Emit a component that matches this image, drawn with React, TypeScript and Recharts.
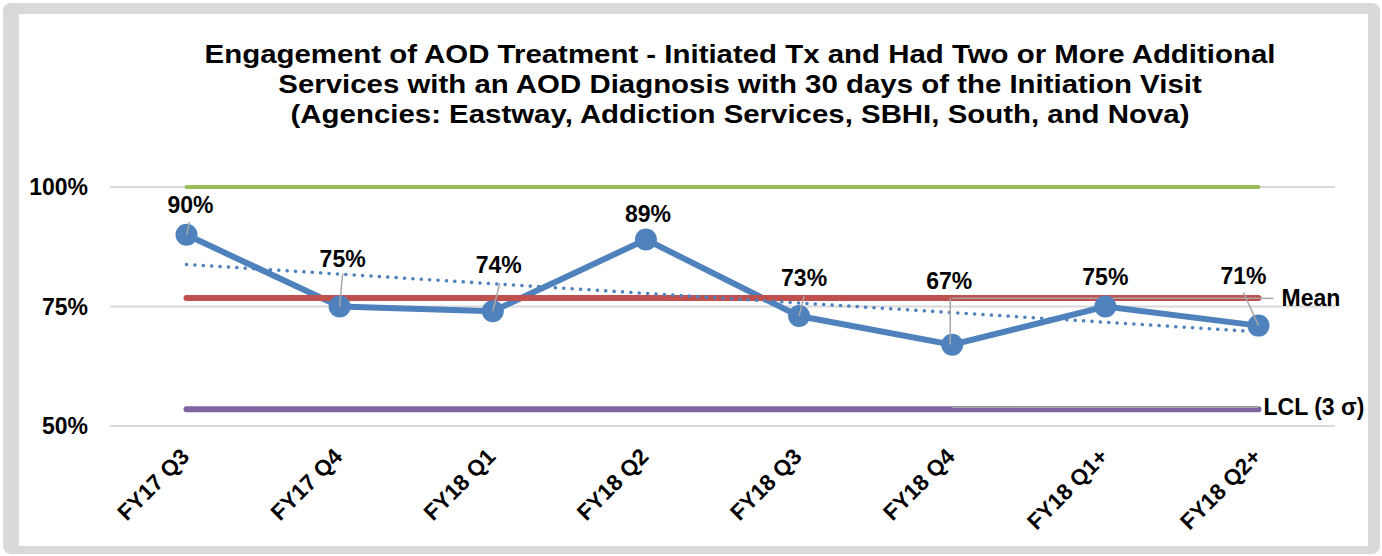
import { CartesianGrid, Line, LineChart, XAxis, YAxis } from 'recharts';

const CATEGORIES = ['FY17 Q3', 'FY17 Q4', 'FY18 Q1', 'FY18 Q2', 'FY18 Q3', 'FY18 Q4', 'FY18 Q1+', 'FY18 Q2+'];
const RATE = [90, 75, 74, 89, 73, 67, 75, 71];
const MEAN = [76.8, 76.8, 76.8, 76.8, 76.8, 76.8, 76.8, 76.8];
const UCL = [100, 100, 100, 100, 100, 100, 100, 100];
const LCL = [53.5, 53.5, 53.5, 53.5, 53.5, 53.5, 53.5, 53.5];
// linear trendline, read at its two ends
const TREND = [83.8, null, null, null, null, null, null, 69.7];
// grey label leader lines that run along the Mean / LCL lines
const MEAN_LEADER = [null, null, null, null, null, 76.7, 76.7, 76.7];
const LCL_LEADER = [null, null, null, null, null, 53.9, 53.9, 53.9];
const Y_TICKS = [50, 75, 100];

const TITLE = [
  'Engagement of AOD Treatment - Initiated Tx and Had Two or More Additional',
  'Services with an AOD Diagnosis with 30 days of the Initiation Visit',
  '(Agencies: Eastway, Addiction Services, SBHI, South, and Nova)',
];

const data = CATEGORIES.map((name, i) => ({
  name,
  rate: RATE[i],
  mean: MEAN[i],
  ucl: UCL[i],
  lcl: LCL[i],
  trend: TREND[i],
  meanLeader: MEAN_LEADER[i],
  lclLeader: LCL_LEADER[i],
}));

// label placement tweaks (pixels), like the hand-moved labels in the original
const NUDGE = [
  { dx: 4, dy: -30, leader: [3, -13] },
  { dx: 3, dy: -48, leader: [3, -33] },
  { dx: 6, dy: -46, leader: [7, -28] },
  { dx: 2, dy: -26, leader: null },
  { dx: 5, dy: -38, leader: [5, -20] },
  { dx: -3, dy: -64, leader: [-2, -47] },
  { dx: 0, dy: -30, leader: null },
  { dx: -15, dy: -50, leader: [-15, -33] },
];

const FONT = '"Liberation Sans", Arial, sans-serif';
const BLUE = '#4f81bd';
const GREY = '#a6a6a6';

const RateLabel = (props: any) => {
  const { x, y, index, value } = props;
  if (value == null) return null;
  const n = NUDGE[index];
  return (
    <g>
      {n.leader && (
        <line
          x1={x + n.leader[0]}
          y1={y + n.leader[1]}
          x2={x + (index === 5 ? n.leader[0] : 0)}
          y2={y}
          stroke={GREY}
          strokeWidth={1.5}
        />
      )}
      <text
        x={x + n.dx}
        y={y + n.dy + 8}
        textAnchor="middle"
        fontFamily={FONT}
        fontWeight="bold"
        fontSize={23}
        fill="#000"
      >
        {value}%
      </text>
    </g>
  );
};

const endLabel = (text: string, lead: number, gap: number) => (props: any) => {
  const { x, y, index } = props;
  if (index !== CATEGORIES.length - 1) return null;
  return (
    <g>
      {lead > 0 && <line x1={x} y1={y} x2={x + lead} y2={y} stroke={GREY} strokeWidth={1.5} />}
      <text x={x + gap} y={y + 8} fontFamily={FONT} fontWeight="bold" fontSize={23} fill="#000">
        {text}
      </text>
    </g>
  );
};

const XTick = (props: any) => {
  const { x, y, payload } = props;
  const tx = x + 4;
  const ty = y + 32;
  return (
    <text
      x={tx}
      y={ty}
      transform={`rotate(-45 ${tx} ${ty})`}
      textAnchor="end"
      fontFamily={FONT}
      fontWeight="bold"
      fontSize={22.5}
      fill="#000"
    >
      {payload.value}
    </text>
  );
};

export default function App() {
  return (
    <div style={{ position: 'absolute', left: 0, top: 0, width: 1382, height: 556, background: '#fff' }}>
      <div
        style={{
          position: 'absolute',
          left: 3,
          top: 3,
          width: 1377,
          height: 551,
          background: '#d9d9d9',
          borderRadius: 8,
        }}
      />
      <div style={{ position: 'absolute', left: 19, top: 14, width: 1349, height: 532, background: '#fff' }} />
      <svg width={1382} height={140} style={{ position: 'absolute', left: 0, top: 0 }}>
        <g transform="translate(740 0) scale(1.132 1)">
          {TITLE.map((t, i) => (
            <text
              key={i}
              x={0}
              y={63.5 + i * 30}
              textAnchor="middle"
              fontFamily={FONT}
              fontWeight="bold"
              fontSize={26}
              fill="#000"
            >
              {t}
            </text>
          ))}
        </g>
      </svg>
      <div style={{ position: 'absolute', left: 0, top: 0 }}>
        <LineChart width={1382} height={556} data={data} margin={{ top: 187, right: 47, left: 20, bottom: 30 }}>
          <CartesianGrid vertical={false} stroke="#d9d9d9" strokeWidth={2} />
          <XAxis
            dataKey="name"
            axisLine={false}
            tickLine={false}
            tickSize={0}
            tickMargin={0}
            height={100}
            interval={0}
            padding={{ left: 76.5, right: 76.5 }}
            tick={<XTick />}
          />
          <YAxis
            domain={[50, 100]}
            ticks={Y_TICKS}
            width={90}
            axisLine={false}
            tickLine={false}
            tickSize={0}
            tickMargin={22}
            tickFormatter={(v: number) => `${v}%`}
            tick={{ fontFamily: FONT, fontWeight: 'bold', fontSize: 23, fill: '#000' }}
          />
          <Line
            dataKey="rate"
            stroke={BLUE}
            strokeWidth={6}
            dot={{ r: 11, fill: BLUE, stroke: BLUE, strokeWidth: 0 }}
            activeDot={false}
            isAnimationActive={false}
          />
          <Line
            dataKey="mean"
            stroke="#c0504d"
            strokeWidth={6}
            strokeLinecap="round"
            dot={false}
            activeDot={false}
            isAnimationActive={false}
          />
          <Line
            dataKey="trend"
            stroke={BLUE}
            strokeWidth={3.5}
            strokeDasharray="0.1 8.3"
            strokeLinecap="round"
            connectNulls
            dot={false}
            activeDot={false}
            isAnimationActive={false}
          />
          <Line
            dataKey="ucl"
            stroke="#9bbb59"
            strokeWidth={4}
            strokeLinecap="round"
            dot={false}
            activeDot={false}
            isAnimationActive={false}
          />
          <Line
            dataKey="lcl"
            stroke="#8064a2"
            strokeWidth={6}
            strokeLinecap="round"
            dot={false}
            activeDot={false}
            isAnimationActive={false}
          />
          <Line
            dataKey="meanLeader"
            stroke={GREY}
            strokeWidth={1.5}
            dot={false}
            activeDot={false}
            isAnimationActive={false}
            label={endLabel('Mean', 15, 23)}
          />
          <Line
            dataKey="lclLeader"
            stroke={GREY}
            strokeWidth={1.5}
            dot={false}
            activeDot={false}
            isAnimationActive={false}
            label={endLabel('LCL (3 σ)', 0, 5)}
          />
          <Line
            dataKey="rate"
            stroke="none"
            dot={false}
            activeDot={false}
            isAnimationActive={false}
            label={<RateLabel />}
          />
        </LineChart>
      </div>
    </div>
  );
}
